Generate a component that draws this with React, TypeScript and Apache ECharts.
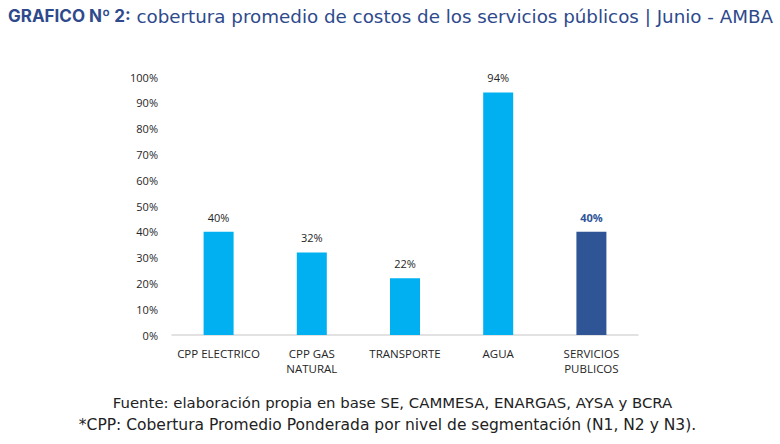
import React, { useEffect, useRef } from "react";
import * as echarts from "echarts";

const categories = ["CPP ELECTRICO", "CPP GAS\nNATURAL", "TRANSPORTE", "AGUA", "SERVICIOS\nPUBLICOS"];
const values = [40, 32, 22, 94, 40];
const barColors = ["#00B0F0", "#00B0F0", "#00B0F0", "#00B0F0", "#2F5597"];
const titleBold = "GRAFICO Nº 2:";
const titleRest = " cobertura promedio de costos de los servicios públicos | Junio - AMBA";
const footer1 = "Fuente: elaboración propia en base SE, CAMMESA, ENARGAS, AYSA y BCRA";
const footer2 = "*CPP: Cobertura Promedio Ponderada por nivel de segmentación (N1, N2 y N3).";

export default function App() {
  const ref = useRef<HTMLDivElement>(null);
  useEffect(() => {
    const chart = echarts.init(ref.current!, null, { renderer: "svg" });
    chart.setOption({
      animation: false,
      backgroundColor: "#ffffff",
      grid: { left: 172, right: 142, top: 77, bottom: 109 },
      xAxis: {
        type: "category",
        data: categories,
        axisLine: { lineStyle: { color: "#D9D9D9", width: 1.5 } },
        axisTick: { show: false },
        axisLabel: { color: "#262626", fontSize: 11.5, fontFamily: "Open Sans", margin: 11, lineHeight: 15, interval: 0 },
      },
      yAxis: {
        type: "value",
        min: 0,
        max: 100,
        interval: 10,
        splitLine: { show: false },
        axisLine: { show: false },
        axisTick: { show: false },
        axisLabel: { formatter: "{value}%", color: "#262626", fontSize: 11, fontFamily: "Open Sans", margin: 14 },
      },
      series: [
        {
          type: "bar",
          barWidth: 30,
          data: values.map((v, i) => ({
            value: v,
            itemStyle: { color: barColors[i] },
            label: i === 4 ? { color: "#2F5597", fontWeight: "bold" } : undefined,
          })),
          label: {
            show: true,
            position: "top",
            distance: 9,
            formatter: "{c}%",
            color: "#262626",
            fontSize: 11,
            fontFamily: "Open Sans",
          },
        },
      ],
      graphic: [
        {
          type: "text",
          left: 8,
          top: 7,
          style: {
            text: "{b|" + titleBold + "}{r|" + titleRest + "}",
            rich: {
              b: { fontSize: 17, fontWeight: "bold", fill: "#2E4A8C", fontFamily: "Inter" },
              r: { fontSize: 18.3, fill: "#2E4A8C", fontFamily: "DejaVu Sans" },
            },
          },
        },
        {
          type: "text",
          x: 392.5,
          y: 403,
          style: { text: footer1, fontSize: 14.9, fill: "#222222", fontFamily: "DejaVu Sans", align: "center", verticalAlign: "middle" },
        },
        {
          type: "text",
          x: 387.5,
          y: 425,
          style: { text: footer2, fontSize: 15.5, fill: "#222222", fontFamily: "DejaVu Sans", align: "center", verticalAlign: "middle" },
        },
      ],
    });
    return () => chart.dispose();
  }, []);
  return <div ref={ref} style={{ position: "fixed", left: 0, top: 0, width: 780, height: 444 }} />;
}
